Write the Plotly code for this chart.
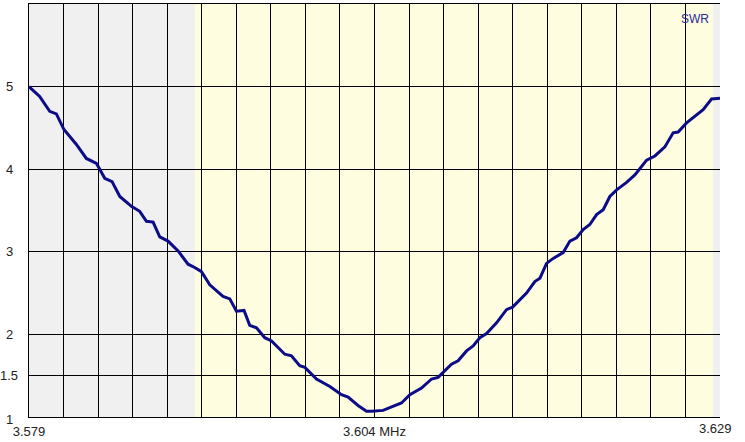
import plotly.graph_objects as go

# ---- data ----
freq_mhz = [3.57900, 3.57977, 3.58050, 3.58098, 3.58153, 3.58243, 3.58315, 3.58388,
            3.58412, 3.58448, 3.58501, 3.58557, 3.58641, 3.58701, 3.58750, 3.58798,
            3.58846, 3.58906, 3.58979, 3.59051, 3.59099, 3.59148, 3.59208, 3.59304,
            3.59353, 3.59401, 3.59456, 3.59497, 3.59546, 3.59606, 3.59655, 3.59751,
            3.59799, 3.59859, 3.59896, 3.59980, 3.60077, 3.60161, 3.60209, 3.60281,
            3.60342, 3.60378, 3.60462, 3.60535, 3.60595, 3.60656, 3.60740, 3.60813,
            3.60860, 3.60957, 3.61005, 3.61066, 3.61114, 3.61162, 3.61211, 3.61283,
            3.61355, 3.61399, 3.61500, 3.61560, 3.61597, 3.61645, 3.61693, 3.61765,
            3.61814, 3.61862, 3.61910, 3.61958, 3.62007, 3.62055, 3.62103, 3.62152,
            3.62224, 3.62284, 3.62333, 3.62369, 3.62429, 3.62501, 3.62561, 3.62597,
            3.62658, 3.62731, 3.62778, 3.62839, 3.62900]
swr = [5.00, 4.88, 4.70, 4.67, 4.48, 4.30, 4.13, 4.07,
       4.00, 3.89, 3.85, 3.67, 3.55, 3.49, 3.37, 3.36,
       3.18, 3.13, 3.01, 2.85, 2.81, 2.76, 2.60, 2.46,
       2.43, 2.28, 2.29, 2.11, 2.08, 1.96, 1.92, 1.76,
       1.74, 1.62, 1.60, 1.46, 1.37, 1.27, 1.24, 1.14,
       1.07, 1.07, 1.08, 1.13, 1.17, 1.27, 1.35, 1.46,
       1.48, 1.64, 1.68, 1.80, 1.86, 1.96, 2.01, 2.14,
       2.30, 2.33, 2.50, 2.64, 2.68, 2.86, 2.92, 2.99,
       3.13, 3.17, 3.27, 3.33, 3.45, 3.51, 3.67, 3.75,
       3.84, 3.93, 4.03, 4.11, 4.16, 4.27, 4.44, 4.45,
       4.56, 4.66, 4.72, 4.85, 4.86]

x_min, x_max = 3.579, 3.629
y_min, y_max = 1.0, 6.0
band_start, band_end = 3.591, 3.6285
x_grid = [round(3.579 + 0.0025 * i, 4) for i in range(20)]
x_tick_text = {3.579: "3.579", 3.604: "3.604 MHz"}
x_end_label = "3.629"
y_ticks = [1, 1.5, 2, 3, 4, 5]
y_tick_labels = ["1", "1.5", "2", "3", "4", "5"]
series_name = "SWR"

fig = go.Figure()
fig.add_trace(go.Scatter(
    x=freq_mhz, y=swr, mode="lines", name=series_name,
    line=dict(color="#0c0c88", width=3), hoverinfo="x+y"))

# light-yellow band
fig.add_shape(type="rect", xref="x", yref="y", x0=band_start, x1=band_end,
              y0=y_min, y1=y_max, fillcolor="#fffde0", line_width=0, layer="below")

fig.update_layout(
    width=745, height=442,
    margin=dict(l=29, r=25, t=3, b=21),
    paper_bgcolor="white", plot_bgcolor="#f0f0f0",
    showlegend=False,
    font=dict(family="Liberation Sans, Arial, sans-serif", size=13, color="#222222"),
)
fig.update_xaxes(
    range=[x_min, x_max], tickvals=x_grid,
    ticktext=[x_tick_text.get(v, "") for v in x_grid],
    showgrid=True, gridcolor="black", gridwidth=1,
    showline=True, linecolor="black", linewidth=1, mirror=True,
    ticks="", zeroline=False, ticklabelstandoff=2,
)
fig.update_yaxes(
    range=[y_min, y_max], tickvals=y_ticks, showticklabels=False,
    showgrid=True, gridcolor="black", gridwidth=1,
    showline=True, linecolor="black", linewidth=1, mirror=False,
    ticks="", zeroline=False,
)
# y tick labels centered left of the plot
for v, t in zip(y_ticks, y_tick_labels):
    fig.add_annotation(x=0, xref="paper", y=v, yref="y", text=t, showarrow=False,
                       xanchor="center", xshift=-20, yshift=(-2 if v == y_min else 0),
                       font=dict(size=13, color="#222222"))
fig.add_annotation(x=x_max, xref="x", y=0, yref="paper", text=x_end_label,
                   showarrow=False, xanchor="center", yanchor="top", xshift=-5, yshift=-2,
                   font=dict(size=13, color="#222222"))
fig.add_annotation(x=1, xref="paper", y=1, yref="paper", text=series_name,
                   showarrow=False, xanchor="right", yanchor="top", xshift=-9, yshift=-6,
                   font=dict(size=12, color="#2a2a9a"))

fig.write_html("out.html", config={"displayModeBar": False},
               post_script="document.body.style.margin='0';document.body.style.overflow='hidden';")
